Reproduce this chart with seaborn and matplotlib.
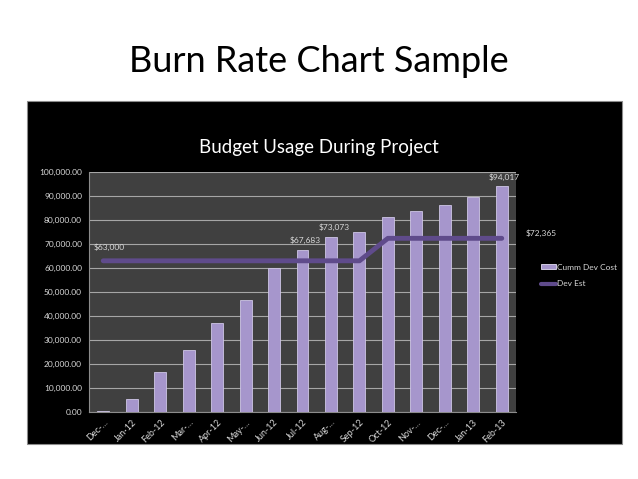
import pandas as pd
import matplotlib.pyplot as plt
import seaborn as sns
from matplotlib.patches import Rectangle, Patch
from matplotlib.lines import Line2D
from matplotlib.ticker import FuncFormatter, FixedLocator

# Data
months = ["Dec-11", "Jan-12", "Feb-12", "Mar-12", "Apr-12", "May-12", "Jun-12", "Jul-12",
          "Aug-12", "Sep-12", "Oct-12", "Nov-12", "Dec-12", "Jan-13", "Feb-13"]
tick_labels = ["Dec-…", "Jan-12", "Feb-12", "Mar-…", "Apr-12", "May-…", "Jun-12", "Jul-12",
               "Aug-…", "Sep-12", "Oct-12", "Nov-…", "Dec-…", "Jan-13", "Feb-13"]
cumm_dev_cost = [500, 5400, 16800, 25700, 37200, 46500, 60200, 67683,
                 73073, 75200, 81400, 83900, 86300, 89400, 94017]
dev_est = [63000, 63000, 63000, 63000, 63000, 63000, 63000, 63000,
           63000, 63000, 72365, 72365, 72365, 72365, 72365]
labelled_bars = ["Jul-12", "Aug-12", "Feb-13"]

df = pd.DataFrame({"month": months, "cost": cumm_dev_cost, "est": dev_est})

sns.set_style("white")
plt.rcParams['font.family'] = ['Lato', 'DejaVu Sans']

fig = plt.figure(figsize=(6.38, 4.79), dpi=100)
fig.patch.set_facecolor("white")

# black chart panel
fig.patches.append(Rectangle((27 / 638, 1 - 444 / 479), 595 / 638, 343 / 479,
                             transform=fig.transFigure, facecolor="black",
                             edgecolor="#8c8c8c", linewidth=0.8, zorder=-5))

fig.text(0.5, 1 - 62 / 479, "Burn Rate Chart Sample", ha="center", va="center",
         fontsize=26, color="black")
fig.text(319 / 638, 1 - 147 / 479, "Budget Usage During Project", ha="center", va="center",
         fontsize=13.5, color="white")

ax = fig.add_axes([89 / 638, 1 - 412 / 479, 427 / 638, 240 / 479])
ax.set_facecolor("#404040")

sns.barplot(data=df, x="month", y="cost", color="#a696cc", width=0.42,
            edgecolor="#cfc6e6", linewidth=0.6, saturation=1, ax=ax, zorder=3)
sns.lineplot(data=df, x="month", y="est", color="#5f4b8b", linewidth=3.5,
             sort=False, ax=ax, zorder=4)

ax.set_ylim(0, 100000)
ax.set_xlim(-0.5, len(months) - 0.5)
ax.set_yticks(range(0, 100001, 10000))
ax.yaxis.set_major_formatter(FuncFormatter(lambda v, p: f"{v:,.2f}"))
ax.grid(axis="y", color="#a6a6a6", linewidth=0.8, zorder=1)
ax.set_axisbelow(True)
ax.set_xlabel("")
ax.set_ylabel("")

ax.set_xticks(range(len(months)))
ax.set_xticklabels(tick_labels, rotation=45, ha="right", rotation_mode="anchor")
ax.xaxis.set_minor_locator(FixedLocator([i + 0.5 for i in range(-1, len(months))]))
ax.tick_params(axis="x", which="major", colors="#d9d9d9", labelsize=6.5, length=0, pad=4)
ax.tick_params(axis="x", which="minor", color="#8c8c8c", length=3, width=0.6)
ax.tick_params(axis="y", colors="#d9d9d9", labelsize=6, length=3, width=0.6, pad=2)
for s in ["top", "right"]:
    ax.spines[s].set_visible(False)
for s in ["left", "bottom"]:
    ax.spines[s].set_color("#8c8c8c")
    ax.spines[s].set_linewidth(0.8)

# value labels
for i, (m, v) in enumerate(zip(months, cumm_dev_cost)):
    if m in labelled_bars:
        ax.annotate(f"${v:,.0f}", (i, v), xytext=(2, 4), textcoords="offset points",
                    ha="center", va="bottom", fontsize=6, color="#d9d9d9")
ax.annotate(f"${dev_est[0]:,.0f}", (0, dev_est[0]), xytext=(4, 7), textcoords="offset points",
            ha="center", va="bottom", fontsize=6, color="#d9d9d9")
ax.annotate(f"${dev_est[-1]:,.0f}", (len(months) - 1, dev_est[-1]), xytext=(17, 1),
            textcoords="offset points", ha="left", va="bottom", fontsize=6, color="#d9d9d9")

handles = [Patch(facecolor="#a696cc", edgecolor="#e6e0f5", linewidth=0.6),
           Line2D([0], [0], color="#5f4b8b", linewidth=3)]
fig.legend(handles, ["Cumm Dev Cost", "Dev Est"], loc="upper left",
           bbox_to_anchor=(533 / 638, 1 - 256 / 479), frameon=False,
           fontsize=6, labelcolor="#d9d9d9", handlelength=1.8, handleheight=0.5,
           handletextpad=0.2, labelspacing=1.2)

fig.savefig("out.png", dpi=100, facecolor=fig.get_facecolor())
